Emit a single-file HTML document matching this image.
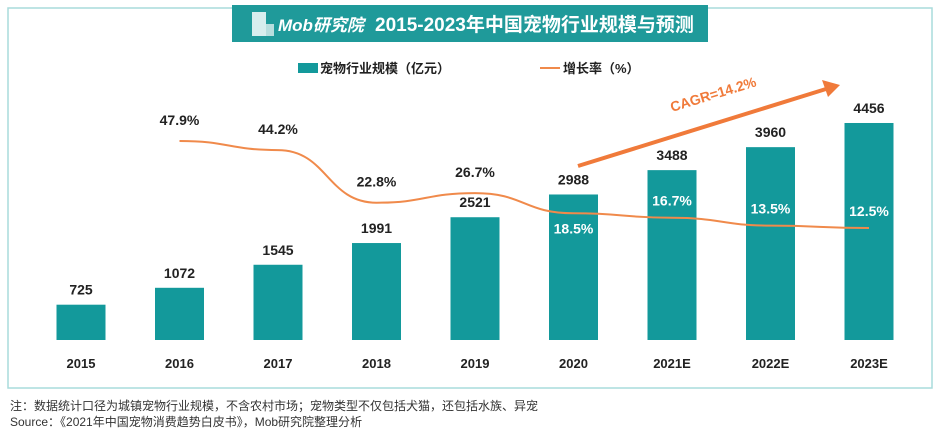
<!DOCTYPE html>
<html><head><meta charset="utf-8">
<style>
html,body{margin:0;padding:0;background:#fff;}
body{width:942px;height:433px;overflow:hidden;font-family:"Liberation Sans","Noto Sans CJK SC",sans-serif;}
svg text{font-family:"Liberation Sans","Noto Sans CJK SC",sans-serif;}
</style></head>
<body>
<svg id="chart" width="942" height="433">
  <rect x="8" y="8" width="924" height="380" fill="none" stroke="#a9dcdc" stroke-width="1.5"/>
  <rect x="232" y="5" width="476" height="37" fill="#1f9a9a"/>
  <g>
    <rect x="252" y="12" width="14" height="24" fill="#d8eeee"/>
    <rect x="266" y="24" width="8" height="12" fill="#b8dede"/>
  </g>
  <text x="278" y="31" font-size="17" font-style="italic" fill="#fff" font-weight="bold">Mob研究院</text>
  <text x="375" y="31" font-size="19" font-weight="bold" fill="#fff">2015-2023年中国宠物行业规模与预测</text>
  <rect x="298" y="63" width="20" height="10" fill="#13999b"/>
  <text x="320" y="73" font-size="13" font-weight="bold" fill="#222">宠物行业规模（亿元）</text>
  <line x1="540" y1="68" x2="560" y2="68" stroke="#f08a4b" stroke-width="2"/>
  <text x="563" y="73" font-size="13" font-weight="bold" fill="#222">增长率（%）</text>
  <g id="bars"></g>
  <g id="line"></g>
  <g>
    <line x1="578" y1="166" x2="826" y2="89" stroke="#f07a3a" stroke-width="4"/>
    <polygon points="840,85 822,80 828,97" fill="#f07a3a"/>
  </g>
  <text x="0" y="0" font-size="14" font-weight="bold" fill="#f07a3a" transform="translate(672,112) rotate(-17)">CAGR=14.2%</text>
  <text x="10" y="410" font-size="12" fill="#333">注：数据统计口径为城镇宠物行业规模，不含农村市场；宠物类型不仅包括犬猫，还包括水族、异宠</text>
  <text x="10" y="426" font-size="12" fill="#333">Source：《2021年中国宠物消费趋势白皮书》，Mob研究院整理分析</text>
</svg>
<script>
const categories=["2015","2016","2017","2018","2019","2020","2021E","2022E","2023E"];
const sizes=[725,1072,1545,1991,2521,2988,3488,3960,4456];
const growth=[null,47.9,44.2,22.8,26.7,18.5,16.7,13.5,12.5];
const growthLabels=[null,"47.9%","44.2%","22.8%","26.7%","18.5%","16.7%","13.5%","12.5%"];
const NS="http://www.w3.org/2000/svg";
const xc=i=>81+i*98.5;
const yb=v=>340-v*0.0487;
const yl=v=>258.8-v*2.46;
const bars=document.getElementById('bars');
const lineG=document.getElementById('line');
function mk(t,a){const e=document.createElementNS(NS,t);for(const k in a)e.setAttribute(k,a[k]);return e;}
categories.forEach((c,i)=>{
  const r=mk('rect',{x:xc(i)-24.5,y:yb(sizes[i]),width:49,height:340-yb(sizes[i]),fill:'#13999b'});
  
  
  bars.appendChild(r);
  const v=mk('text',{x:xc(i),y:yb(sizes[i])-10,'text-anchor':'middle','font-size':14,'font-weight':'bold',fill:'#222'});
  v.textContent=sizes[i];
  
  
  bars.appendChild(v);
  const t=mk('text',{x:xc(i),y:368,'text-anchor':'middle','font-size':13,'font-weight':'bold',fill:'#222'});
  t.textContent=c;
  
  
  bars.appendChild(t);
});
const pts=[];
growth.forEach((g,i)=>{if(g!==null)pts.push([xc(i),yl(g)]);});
let d='M'+pts[0][0]+','+pts[0][1];
for(let i=1;i<pts.length;i++){const p=pts[i-1],q=pts[i];const mx=(p[0]+q[0])/2;d+=' C'+mx+','+p[1]+' '+mx+','+q[1]+' '+q[0]+','+q[1];}
const path=mk('path',{d:d,fill:'none',stroke:'#f08a4b','stroke-width':2});


lineG.appendChild(path);
growth.forEach((g,i)=>{
  if(g===null)return;
  const inside=i>=5;
  const y=inside?(i===5?yl(g)+20:yl(g)-12):yl(g)-16;
  const t=mk('text',{x:xc(i),y:y,'text-anchor':'middle','font-size':14,'font-weight':'bold',fill:inside?'#fff':'#222'});
  t.textContent=growthLabels[i];
  
  
  lineG.appendChild(t);
});
</script>
</body></html>
